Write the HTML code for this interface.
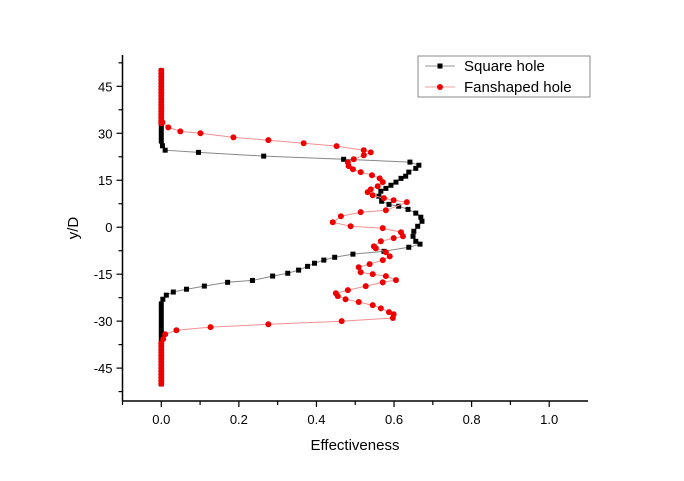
<!DOCTYPE html>
<html><head><meta charset="utf-8"><style>
body{margin:0;background:#fff;}
svg{display:block;font-family:"Liberation Sans",Arial,sans-serif;}
</style></head><body>
<svg id="chart" width="684" height="481" viewBox="0 0 684 481">
<g id="plot"></g>
<g id="axes"></g>
<g>
<rect x="418" y="56" width="172" height="41" fill="#fff" stroke="#888" stroke-width="1"/>
<g>
<line x1="425" y1="66" x2="455" y2="66" stroke="#999"/><rect x="437.5" y="63.5" width="5" height="5" fill="#000"/>
<text x="464" y="71" font-size="15" fill="#000">Square hole</text></g>
<g>
<line x1="425" y1="87" x2="455" y2="87" stroke="#f4a0a0"/><circle cx="440" cy="87" r="3" fill="#e00"/>
<text x="464" y="92" font-size="15" fill="#000">Fanshaped hole</text></g>
</g>
</svg>
<script>
const xTicks=[0.0,0.2,0.4,0.6,0.8,1.0];
const xTickLabels=["0.0","0.2","0.4","0.6","0.8","1.0"];
const yTicks=[-45,-30,-15,0,15,30,45];
const yTickLabels=["-45","-30","-15","0","15","30","45"];
const squareX=[0,0,0,0,0,0,0,0,0,0,0,0,0,0,0,0,0.003,0.01,0.096,0.264,0.47,0.641,0.664,0.656,0.638,0.63,0.618,0.605,0.592,0.579,0.566,0.561,0.568,0.587,0.612,0.636,0.656,0.669,0.672,0.661,0.651,0.649,0.656,0.667,0.638,0.574,0.494,0.447,0.419,0.395,0.377,0.354,0.326,0.287,0.235,0.171,0.111,0.065,0.031,0.013,0.004,0,0,0,0,0,0,0,0,0,0,0,0,0,0,0,0,0,0,0];
const squareY=[50,48.5,47,45.5,44,42.5,41,39.5,38,36.5,35,33.5,32,30.5,29,27.5,26,24.6,23.9,22.7,21.7,20.8,19.8,18.8,17.6,16.3,15.6,14.4,13.4,12.4,11.5,9.9,8.3,7.3,6.7,5.7,4.5,3.2,1.9,0.3,-1.3,-2.9,-4.5,-5.4,-6.4,-7.7,-8.6,-9.6,-10.5,-11.5,-12.5,-13.7,-14.7,-15.6,-17,-17.6,-18.8,-19.8,-20.7,-21.7,-23,-24.5,-26,-27.5,-29,-30.5,-32,-33.5,-35,-36.5,-38,-39.5,-41,-42.5,-44,-45.5,-47,-48.5,-50,-50];
const fanX=[0,0,0,0,0,0,0,0,0,0,0,0,0,0,0,0,0,0,0.003,0.018,0.049,0.101,0.186,0.276,0.367,0.452,0.522,0.54,0.522,0.496,0.481,0.483,0.494,0.514,0.543,0.563,0.571,0.558,0.54,0.532,0.545,0.574,0.599,0.633,0.579,0.514,0.463,0.442,0.488,0.571,0.618,0.623,0.599,0.566,0.548,0.553,0.579,0.589,0.571,0.537,0.509,0.514,0.545,0.579,0.605,0.571,0.527,0.481,0.45,0.455,0.475,0.509,0.545,0.566,0.587,0.599,0.597,0.465,0.276,0.127,0.039,0.01,0.005,0,0,0,0,0,0,0,0,0,0,0,0,0,0];
const fanY=[50,49,48,47,46,45,44,43,42,41,40,39,38,37,36,35,34,33.2,33.5,31.9,30.6,30,28.7,27.8,26.8,25.9,24.6,23.9,23,21.7,20.7,19.5,18.5,17.6,16.6,15.6,14.4,13.1,12.1,11.2,10.2,9.3,8.6,8,5.4,4.8,3.5,1.6,0.3,-0.3,-1.6,-2.9,-3.5,-4.5,-6.1,-6.7,-8,-9.3,-10.5,-11.8,-12.8,-14.4,-15,-15.6,-16.9,-17.6,-18.8,-20.1,-21.1,-22,-23,-23.9,-24.9,-25.9,-27.1,-27.8,-29,-30,-31,-31.9,-32.9,-34.2,-35.7,-37,-38,-39,-40,-41,-42,-43,-44,-45,-46,-47,-48,-49,-50];

const NS="http://www.w3.org/2000/svg";
const X0=122.5,X1=588,XMIN=-0.1,XMAX=1.1;
const Y0=401,Y1=55,YMIN=-55.5,YMAX=55;
function sx(v){return X0+(v-XMIN)/(XMAX-XMIN)*(X1-X0);}
function sy(v){return Y0-(v-YMIN)/(YMAX-YMIN)*(Y0-Y1);}
function mk(tag,attrs,parent){const e=document.createElementNS(NS,tag);for(const k in attrs)e.setAttribute(k,attrs[k]);parent.appendChild(e);return e;}
const plot=document.getElementById('plot'),axes=document.getElementById('axes');

// axes lines
let ax=mk('line',{x1:X0,y1:Y0,x2:X1,y2:Y0,stroke:'#000','stroke-width':1.5},axes);


let ay=mk('line',{x1:X0,y1:Y0,x2:X0,y2:Y1,stroke:'#000','stroke-width':1.5},axes);


// x ticks
for(let i=0;i<xTicks.length;i++){
 const x=sx(xTicks[i]);
 mk('line',{x1:x,y1:Y0,x2:x,y2:Y0+6,stroke:'#000','stroke-width':1.2},axes);
 const mx=sx(xTicks[i]+0.1);
 if(xTicks[i]+0.1<XMAX) mk('line',{x1:mx,y1:Y0,x2:mx,y2:Y0+4,stroke:'#000','stroke-width':1.2},axes);
 const t=mk('text',{x:x,y:Y0+23,'font-size':13,'text-anchor':'middle',fill:'#000'},axes);
 t.textContent=xTickLabels[i];
 
 
}
mk('line',{x1:sx(-0.1),y1:Y0,x2:sx(-0.1),y2:Y0+4,stroke:'#000','stroke-width':1.2},axes);
// y ticks
for(let i=0;i<yTicks.length;i++){
 const y=sy(yTicks[i]);
 mk('line',{x1:X0-6,y1:y,x2:X0,y2:y,stroke:'#000','stroke-width':1.2},axes);
 const t=mk('text',{x:X0-10,y:y+5,'font-size':13,'text-anchor':'end',fill:'#000'},axes);
 t.textContent=yTickLabels[i];
 
 
}
[-52.5,-37.5,-22.5,-7.5,7.5,22.5,37.5,52.5].forEach(v=>{const y=sy(v);mk('line',{x1:X0-4,y1:y,x2:X0,y2:y,stroke:'#000','stroke-width':1.2},axes);});
let xt=mk('text',{x:355,y:450,'font-size':15,'text-anchor':'middle',fill:'#000'},axes);
xt.textContent='Effectiveness';


let yt=mk('text',{x:0,y:0,'font-size':15,'text-anchor':'middle',fill:'#000',transform:'translate(78,228) rotate(-90)'},axes);
yt.textContent='y/D';



// series
function series(xs,ys,color,lineColor,shape,name){
 const g=mk('g',{},plot);
 
 
 let d='';
 for(let i=0;i<xs.length;i++) d+=(i?'L':'M')+sx(xs[i]).toFixed(1)+' '+sy(ys[i]).toFixed(1);
 mk('path',{d:d,fill:'none',stroke:lineColor,'stroke-width':1},g);
 for(let i=0;i<xs.length;i++){
  let m;
  if(shape==='sq') m=mk('rect',{x:sx(xs[i])-2.5,y:sy(ys[i])-2.5,width:5,height:5,fill:color},g);
  else m=mk('circle',{cx:sx(xs[i]),cy:sy(ys[i]),r:3,fill:color},g);
  
  
 }
}
series(squareX,squareY,'#000','#888','sq','square-hole-series');
series(fanX,fanY,'#e00','#f09090','ci','fanshaped-hole-series');
</script>
</body></html>
